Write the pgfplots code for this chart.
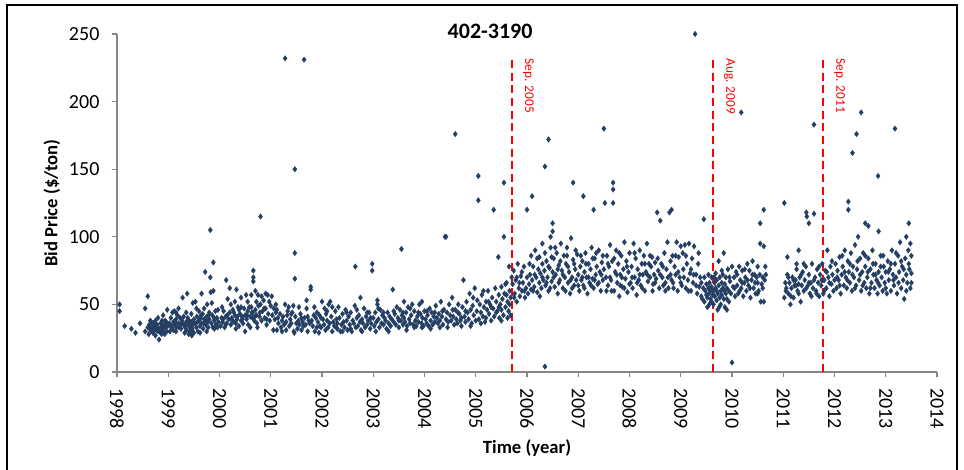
\documentclass[border=0pt]{standalone}
\usepackage{pgfplots}
\pgfplotsset{compat=1.18}
\usepackage{fontspec}
\setmainfont{Carlito}
\definecolor{navy}{RGB}{36,63,99}
\definecolor{axgray}{RGB}{134,134,134}
\begin{document}
\begin{tikzpicture}
\useasboundingbox (0,0) rectangle (723pt,-352.5pt);
\begin{axis}[
  at={(87.75pt,-279pt)}, anchor=south west,
  scale only axis, width=615pt, height=253.5pt,
  xmin=1998, xmax=2014, ymin=0, ymax=250,
  axis lines=left, axis line style={-, axgray, line width=1pt},
  tick style={axgray, line width=1pt}, tick align=outside, major tick length=4pt,
  xtick={1998,...,2014}, ytick={0,50,...,250},
  /pgf/number format/assume math mode=true,
  /pgf/number format/1000 sep={},
  ticklabel style={font=\fontsize{15}{18}\selectfont},
  xticklabel style={rotate=-90, anchor=west, inner sep=1pt, xshift=7pt},
  yticklabel style={inner sep=2pt, xshift=-7pt},
  title={\textbf{402-3190}},
  title style={font=\fontsize{16.5}{19}\selectfont, at={(axis description cs:0.455,1)}, anchor=center, yshift=-4pt},
  xlabel={\textbf{Time (year)}},
  xlabel style={font=\fontsize{14}{16}\selectfont, at={(axis description cs:0.5,0)}, anchor=center, yshift=-57pt},
  ylabel={\textbf{Bid Price (\$/ton)}},
  ylabel style={font=\fontsize{14}{16}\selectfont, at={(axis description cs:-0.0793,0.5)}, anchor=center},
  clip=false,
]
\addplot[only marks, mark=diamond*, mark size=2.1pt, color=navy, mark options={fill=navy, draw=navy, line width=0.2pt}] coordinates {
(1998.05,50)(1998.05,45)(1998.15,34)(1998.28,32)(1998.36,29)(1998.45,36)(1998.55,47)(1998.6,56)(1998.55,30)(1998.6,33)
(1998.62,28)(1998.63,35)(1998.65,38)(1998.66,31)(1998.68,33)(1998.7,36)(1998.7,29)(1998.72,34)(1998.73,31)(1998.75,38)(1998.75,27)(1998.76,33)(1998.78,35)(1998.8,30)(1998.8,40)(1998.82,24)(1998.83,32)(1998.85,36)(1998.86,29)(1998.87,33)(1998.88,38)(1998.9,31)(1998.9,42)(1998.92,35)(1998.93,28)(1998.95,33)(1998.96,37)(1998.97,30)(1998.98,46)(1998.99,34)
(1998.64,32)(1998.69,30)(1998.74,36)(1998.79,33)(1998.84,30)(1998.89,35)(1998.94,38)(1998.67,37)(1998.77,31)(1998.87,28)
(1999.02,36)(1999.03,30)(1999.05,40)(1999.06,33)(1999.08,44)(1999.1,37)(1999.1,31)(1999.12,45)(1999.13,35)(1999.15,39)(1999.16,33)(1999.18,42)(1999.2,36)(1999.2,47)(1999.22,34)(1999.23,40)(1999.25,32)(1999.27,38)(1999.28,55)(1999.3,35)(1999.3,41)(1999.32,29)(1999.33,33)(1999.35,37)(1999.36,31)(1999.37,58)(1999.38,40)(1999.4,35)(1999.4,28)(1999.42,33)(1999.43,30)(1999.45,37)(1999.45,43)(1999.46,27)(1999.47,32)(1999.48,35)(1999.48,51)(1999.5,29)(1999.5,39)
(1999.07,34)(1999.14,37)(1999.21,33)(1999.26,36)(1999.34,34)(1999.41,38)(1999.44,33)(1999.47,30)
(1999.52,36)(1999.53,52)(1999.55,33)(1999.56,41)(1999.58,30)(1999.6,38)(1999.6,45)(1999.62,34)(1999.63,40)(1999.65,58)(1999.65,36)(1999.67,43)(1999.68,32)(1999.7,39)(1999.7,47)(1999.72,74)(1999.73,35)(1999.75,41)(1999.76,50)(1999.77,37)(1999.78,33)(1999.8,44)(1999.8,39)(1999.82,105)(1999.82,70)(1999.83,59)(1999.84,36)(1999.85,51)(1999.86,42)(1999.87,33)(1999.88,81)(1999.88,60)(1999.9,38)(1999.92,45)(1999.93,35)(1999.95,40)(1999.96,33)(1999.97,46)(1999.98,37)
(1999.57,37)(1999.64,42)(1999.69,36)(1999.74,38)(1999.79,42)(1999.89,40)
(2000.02,34)(2000.04,40)(2000.06,37)(2000.08,45)(2000.1,33)(2000.12,41)(2000.13,68)(2000.14,36)(2000.16,54)(2000.18,39)(2000.2,44)(2000.22,35)(2000.2,62)(2000.24,40)(2000.26,46)(2000.28,37)(2000.3,52)(2000.3,42)(2000.32,36)(2000.33,61)(2000.34,39)(2000.36,48)(2000.38,34)(2000.4,43)(2000.42,55)(2000.42,38)(2000.44,41)(2000.46,36)(2000.48,47)(2000.5,30)(2000.5,42)
(2000.07,39)(2000.15,42)(2000.25,38)(2000.35,41)(2000.45,39)(2000.28,44)(2000.38,46)
(2000.52,57)(2000.53,39)(2000.55,45)(2000.56,35)(2000.58,48)(2000.6,41)(2000.6,33)(2000.62,57)(2000.64,40)(2000.65,44)(2000.66,75)(2000.66,70)(2000.66,67)(2000.68,38)(2000.7,60)(2000.7,46)(2000.72,42)(2000.73,36)(2000.74,33)(2000.75,57)(2000.76,49)(2000.78,41)(2000.8,115)(2000.8,50)(2000.82,38)(2000.84,45)(2000.86,53)(2000.88,40)(2000.9,58)(2000.9,47)(2000.92,39)(2000.94,57)(2000.95,43)(2000.97,52)(2000.98,38)
(2000.54,42)(2000.63,44)(2000.69,41)(2000.79,44)(2000.87,47)
(2001.02,56)(2001.03,42)(2001.05,31)(2001.06,47)(2001.08,39)(2001.1,44)(2001.12,31)(2001.14,40)(2001.15,36)(2001.18,43)(2001.2,33)(2001.22,38)(2001.24,41)(2001.26,35)(2001.28,232)(2001.28,50)(2001.3,37)(2001.3,31)(2001.32,42)(2001.35,48)(2001.36,34)(2001.38,39)(2001.4,36)(2001.42,44)(2001.44,49)(2001.45,30)(2001.46,29)(2001.47,150)(2001.47,88)(2001.47,69)(2001.48,41)(2001.5,36)
(2001.52,32)(2001.54,38)(2001.56,35)(2001.58,43)(2001.6,31)(2001.62,37)(2001.64,34)(2001.65,231)(2001.66,40)(2001.68,35)(2001.7,53)(2001.7,47)(2001.72,41)(2001.74,38)(2001.76,36)(2001.78,63)(2001.78,61)(2001.8,38)(2001.82,34)(2001.84,42)(2001.86,30)(2001.88,40)(2001.9,44)(2001.9,33)(2001.92,37)(2001.94,29)(2001.95,42)(2001.96,34)(2001.98,40)(2002.0,52)
(2002.02,39)(2002.04,35)(2002.05,47)(2002.07,31)(2002.08,43)(2002.1,38)(2002.12,33)(2002.13,50)(2002.15,36)(2002.16,52)(2002.18,41)(2002.2,30)(2002.22,37)(2002.24,34)(2002.26,45)(2002.28,39)(2002.3,32)(2002.3,36)(2002.32,48)(2002.34,40)(2002.36,30)(2002.38,35)(2002.4,43)(2002.42,37)(2002.44,33)(2002.46,46)(2002.48,38)(2002.5,31)
(2002.52,41)(2002.54,35)(2002.56,44)(2002.58,30)(2002.6,38)(2002.62,36)(2002.64,49)(2002.65,78)(2002.66,33)(2002.68,40)(2002.7,34)(2002.72,42)(2002.74,37)(2002.75,55)(2002.76,31)(2002.78,39)(2002.8,36)(2002.82,47)(2002.84,33)(2002.86,41)(2002.88,35)(2002.9,38)(2002.92,44)(2002.94,32)(2002.96,36)(2002.98,80)(2002.98,75)(2003.0,40)
(2003.02,34)(2003.04,44)(2003.06,37)(2003.08,53)(2003.08,50)(2003.1,39)(2003.12,33)(2003.14,46)(2003.16,36)(2003.18,42)(2003.2,35)(2003.22,40)(2003.24,38)(2003.26,32)(2003.28,44)(2003.3,36)(2003.32,41)(2003.34,34)(2003.36,39)(2003.38,61)(2003.4,37)(2003.42,43)(2003.44,35)(2003.46,48)(2003.48,40)(2003.5,33)
(2003.52,46)(2003.54,38)(2003.55,91)(2003.56,42)(2003.58,35)(2003.6,52)(2003.6,40)(2003.62,37)(2003.64,44)(2003.66,34)(2003.68,48)(2003.7,39)(2003.72,36)(2003.74,42)(2003.76,50)(2003.78,35)(2003.8,45)(2003.82,38)(2003.84,34)(2003.86,41)(2003.88,37)(2003.9,50)(2003.92,43)(2003.94,36)(2003.95,52)(2003.96,40)(2003.98,34)(2004.0,45)
(2004.02,39)(2004.04,36)(2004.06,42)(2004.08,34)(2004.1,47)(2004.12,38)(2004.14,44)(2004.16,35)(2004.18,41)(2004.2,37)(2004.22,49)(2004.24,40)(2004.26,36)(2004.28,43)(2004.3,38)(2004.32,52)(2004.34,41)(2004.36,35)(2004.38,46)(2004.4,100)(2004.42,100)(2004.42,39)(2004.44,44)(2004.46,37)(2004.48,50)(2004.5,42)
(2004.52,38)(2004.54,55)(2004.56,41)(2004.58,35)(2004.6,176)(2004.6,46)(2004.62,39)(2004.64,36)(2004.66,50)(2004.68,43)(2004.7,38)(2004.72,34)(2004.74,48)(2004.76,68)(2004.78,41)(2004.8,37)(2004.82,52)(2004.84,44)(2004.86,39)(2004.88,58)(2004.9,46)(2004.92,36)(2004.94,49)(2004.96,42)(2004.98,62)(2005.0,38)
(2005.02,45)(2005.03,53)(2005.05,145)(2005.05,127)(2005.06,39)(2005.08,50)(2005.1,44)(2005.12,57)(2005.14,41)(2005.16,48)(2005.18,37)(2005.2,52)(2005.22,46)(2005.24,60)(2005.26,43)(2005.28,50)(2005.3,38)(2005.32,55)(2005.35,120)(2005.34,47)(2005.36,41)(2005.38,62)(2005.4,52)(2005.42,45)(2005.44,85)(2005.45,57)(2005.46,40)(2005.48,50)(2005.5,63)(2005.5,46)(2005.52,54)(2005.54,42)(2005.55,140)(2005.55,100)(2005.56,58)(2005.58,48)(2005.6,66)(2005.62,52)(2005.64,45)(2005.65,78)(2005.66,60)(2005.68,55)(2005.68,42)(2005.7,70)
(2005.72,65)(2005.74,75)(2005.76,58)(2005.78,68)(2005.8,52)(2005.82,80)(2005.84,62)(2005.86,56)(2005.88,71)(2005.9,60)(2005.92,66)(2005.94,78)(2005.96,55)(2005.98,62)(2006.0,120)(2006.0,70)
(2006.02,58)(2006.04,65)(2006.06,72)(2006.08,61)(2006.1,130)(2006.1,68)(2006.12,78)(2006.14,63)(2006.16,90)(2006.18,70)(2006.2,59)(2006.22,76)(2006.24,66)(2006.24,85)(2006.26,73)(2006.28,62)(2006.3,80)(2006.3,95)(2006.32,68)(2006.34,75)(2006.35,152)(2006.35,4)(2006.36,64)(2006.38,82)(2006.4,70)(2006.42,172)(2006.42,60)(2006.44,77)(2006.46,92)(2006.46,100)(2006.48,67)(2006.5,74)
(2006.5,110)(2006.5,104)(2006.52,84)(2006.54,63)(2006.56,72)(2006.58,88)(2006.6,58)(2006.62,79)(2006.64,68)(2006.66,95)(2006.68,75)(2006.7,62)(2006.72,86)(2006.74,70)(2006.76,80)(2006.78,92)(2006.8,66)(2006.82,74)(2006.84,58)(2006.86,99)(2006.88,70)(2006.9,140)(2006.9,83)(2006.92,64)(2006.94,76)(2006.96,68)(2006.98,87)(2007.0,72)
(2007.02,60)(2007.04,78)(2007.06,68)(2007.08,82)(2007.1,130)(2007.1,64)(2007.12,74)(2007.14,88)(2007.16,70)(2007.18,58)(2007.2,80)(2007.22,66)(2007.24,76)(2007.26,92)(2007.28,69)(2007.3,120)(2007.3,62)(2007.32,84)(2007.34,72)(2007.36,78)(2007.38,65)(2007.4,90)(2007.42,74)(2007.44,60)(2007.46,81)(2007.48,68)(2007.5,180)(2007.5,76)
(2007.52,125)(2007.54,70)(2007.56,86)(2007.58,64)(2007.6,78)(2007.62,94)(2007.64,68)(2007.66,82)(2007.68,140)(2007.68,135)(2007.68,125)(2007.7,60)(2007.72,74)(2007.74,90)(2007.76,66)(2007.78,80)(2007.8,56)(2007.82,72)(2007.84,86)(2007.86,63)(2007.88,76)(2007.9,96)(2007.92,69)(2007.94,82)(2007.96,59)(2007.98,74)(2008.0,88)
(2008.02,66)(2008.04,78)(2008.06,62)(2008.08,95)(2008.1,70)(2008.12,84)(2008.14,57)(2008.16,76)(2008.18,68)(2008.2,90)(2008.22,64)(2008.24,80)(2008.26,72)(2008.28,86)(2008.3,60)(2008.32,74)(2008.34,95)(2008.36,67)(2008.38,80)(2008.4,70)(2008.42,78)(2008.44,85)(2008.46,65)(2008.48,72)(2008.5,81)
(2008.52,69)(2008.54,118)(2008.56,75)(2008.58,62)(2008.6,112)(2008.62,80)(2008.64,70)(2008.66,64)(2008.68,88)(2008.7,66)(2008.72,76)(2008.74,96)(2008.76,62)(2008.78,118)(2008.8,72)(2008.82,120)(2008.82,68)(2008.84,86)(2008.86,62)(2008.88,78)(2008.9,72)(2008.92,96)(2008.94,60)(2008.96,85)(2008.98,70)(2009.0,93)
(2009.02,64)(2009.04,88)(2009.06,70)(2009.08,94)(2009.1,62)(2009.12,80)(2009.14,68)(2009.16,95)(2009.18,73)(2009.2,60)(2009.22,84)(2009.24,66)(2009.26,93)(2009.28,250)(2009.3,72)(2009.32,58)(2009.34,80)(2009.36,63)(2009.38,70)(2009.4,56)(2009.4,66)(2009.42,54)(2009.44,62)(2009.45,113)(2009.46,52)(2009.46,70)(2009.48,60)(2009.5,57)(2009.5,65)(2009.52,48)(2009.52,55)(2009.54,62)(2009.54,72)(2009.55,58)(2009.56,50)(2009.56,66)(2009.58,60)(2009.58,54)(2009.6,63)(2009.6,52)(2009.6,70)(2009.62,57)
(2009.64,60)(2009.64,50)(2009.66,66)(2009.66,56)(2009.68,73)(2009.68,62)(2009.7,53)(2009.7,68)(2009.72,58)(2009.72,46)(2009.74,64)(2009.74,82)(2009.76,55)(2009.76,70)(2009.78,60)(2009.78,50)(2009.8,66)(2009.8,57)(2009.82,72)(2009.82,62)(2009.84,54)(2009.84,88)(2009.86,65)(2009.86,48)(2009.88,58)(2009.88,70)(2009.9,62)(2009.9,54)(2009.92,76)(2009.94,60)(2009.94,52)(2009.96,67)(2009.98,58)(2010.0,7)(2010.0,78)(2010.02,63)
(2010.04,70)(2010.06,56)(2010.08,74)(2010.1,64)(2010.12,58)(2010.14,78)(2010.16,68)(2010.18,192)(2010.18,62)(2010.2,75)(2010.22,56)(2010.24,66)(2010.26,70)(2010.28,60)(2010.3,80)(2010.32,64)(2010.34,75)(2010.36,55)(2010.38,68)(2010.4,82)(2010.42,62)(2010.44,72)(2010.46,58)(2010.48,70)(2010.5,66)(2010.5,78)(2010.52,60)(2010.54,72)(2010.55,110)(2010.55,95)(2010.56,52)(2010.58,65)(2010.6,70)(2010.62,120)(2010.62,93)(2010.62,52)(2010.64,68)(2010.66,72)
(2011.02,125)(2011.02,55)(2011.04,66)(2011.06,62)(2011.08,72)(2011.08,85)(2011.1,58)(2011.12,66)(2011.14,50)(2011.16,62)(2011.18,70)(2011.2,55)(2011.22,64)(2011.24,68)(2011.26,76)(2011.26,80)(2011.28,60)(2011.3,65)(2011.3,90)(2011.32,70)(2011.34,52)(2011.36,64)(2011.38,74)(2011.4,60)(2011.42,68)(2011.44,78)(2011.45,118)(2011.46,115)(2011.48,64)(2011.5,110)(2011.5,72)(2011.52,58)(2011.54,66)(2011.56,80)(2011.58,62)(2011.6,183)(2011.6,117)(2011.62,70)(2011.64,60)(2011.66,76)(2011.68,66)(2011.7,56)
(2011.72,72)(2011.74,64)(2011.76,80)(2011.78,58)(2011.8,68)(2011.82,75)(2011.84,62)(2011.86,90)(2011.88,70)(2011.9,56)(2011.92,78)(2011.94,65)(2011.96,72)(2011.98,60)(2012.0,68)
(2012.02,80)(2012.04,62)(2012.06,75)(2012.08,68)(2012.1,85)(2012.12,58)(2012.14,72)(2012.16,78)(2012.18,64)(2012.2,90)(2012.22,70)(2012.24,62)(2012.26,82)(2012.27,126)(2012.27,120)(2012.28,74)(2012.3,66)(2012.32,88)(2012.34,60)(2012.35,162)(2012.36,78)(2012.38,70)(2012.4,94)(2012.42,64)(2012.43,176)(2012.44,76)(2012.46,100)(2012.48,68)(2012.5,84)(2012.52,192)(2012.52,60)
(2012.54,74)(2012.56,88)(2012.58,66)(2012.6,110)(2012.6,78)(2012.62,62)(2012.64,70)(2012.66,108)(2012.66,84)(2012.68,58)(2012.7,76)(2012.72,66)(2012.74,90)(2012.76,72)(2012.78,62)(2012.8,80)(2012.82,68)(2012.84,58)(2012.85,145)(2012.86,104)(2012.86,74)(2012.88,64)(2012.9,86)(2012.92,70)(2012.94,60)(2012.96,78)(2012.98,66)(2013.0,74)
(2013.02,58)(2013.04,82)(2013.06,68)(2013.08,76)(2013.1,60)(2013.12,90)(2013.14,72)(2013.16,64)(2013.18,180)(2013.18,80)(2013.2,70)(2013.22,58)(2013.24,86)(2013.26,74)(2013.28,96)(2013.3,62)(2013.32,78)(2013.34,68)(2013.36,54)(2013.38,84)(2013.4,100)(2013.4,72)(2013.42,66)(2013.44,90)(2013.45,110)(2013.46,76)(2013.48,95)(2013.48,62)(2013.5,73)
(1999.15,30)(1999.15,44)(1999.35,44)(1999.55,47)(1999.62,29)(1999.75,30)(1999.9,32)(2000.05,48)(2000.12,35)(2000.22,50)(2000.32,32)(2000.42,48)(2000.55,52)(2000.62,48)(2000.72,52)(2000.82,56)(2000.92,35)(2001.0,49)(2001.1,50)
(2001.12,46)(2001.22,30)(2001.33,45)(2001.4,43)(2001.55,48)(2001.6,40)(2001.72,30)(2001.85,48)(2001.98,33)(2002.1,45)(2002.2,48)(2002.28,33)(2002.4,30)(2002.48,44)(2002.56,32)(2002.68,46)(2002.78,30)(2002.88,44)(2002.95,40)(2003.05,30)(2003.1,47)(2003.2,44)(2003.3,30)(2003.4,45)(2003.5,38)(2003.58,44)(2003.65,31)(2003.72,47)(2003.8,33)(2003.88,44)(2003.95,33)(2004.05,45)(2004.12,32)(2004.2,44)(2004.3,33)(2004.35,45)(2004.45,33)(2004.55,46)(2004.65,44)(2004.72,40)(2004.8,45)(2004.9,34)(2004.95,55)
(2005.1,36)(2005.15,60)(2005.2,40)(2005.25,52)(2005.3,48)(2005.4,44)(2005.45,48)(2005.5,38)(2005.58,65)(2005.62,40)(2005.66,50)(2005.6,57)
(2005.75,55)(2005.8,70)(2005.85,66)(2005.9,74)(2005.95,60)(2006.05,80)(2006.08,86)(2006.12,60)(2006.15,72)(2006.2,84)(2006.25,56)(2006.3,70)(2006.35,88)(2006.38,66)(2006.42,78)(2006.45,62)(2006.48,85)(2006.52,70)(2006.55,92)(2006.6,76)(2006.62,66)(2006.65,82)(2006.7,72)(2006.75,60)(2006.78,86)(2006.8,78)(2006.85,68)(2006.88,62)(2006.92,80)(2006.95,90)(2007.0,64)(2007.05,86)(2007.08,70)(2007.12,62)(2007.15,80)(2007.2,70)(2007.25,64)(2007.28,84)(2007.32,68)(2007.35,88)(2007.4,66)(2007.45,72)(2007.48,86)(2007.55,60)(2007.58,80)(2007.62,70)(2007.65,60)(2007.7,84)(2007.75,72)(2007.8,88)(2007.82,64)(2007.85,70)(2007.9,62)(2007.95,78)(2008.0,65)(2008.05,70)(2008.1,88)(2008.15,66)(2008.2,72)(2008.25,62)(2008.3,80)(2008.35,72)(2008.4,86)(2008.45,60)(2008.5,66)(2008.55,84)(2008.6,72)(2008.65,78)(2008.7,60)(2008.75,70)(2008.8,82)(2008.85,66)(2008.9,86)(2008.95,74)(2009.0,66)(2009.05,76)(2009.1,86)(2009.15,60)(2009.2,76)(2009.25,72)(2009.3,64)(2009.35,88)
(2009.65,70)(2009.7,60)(2009.75,48)(2009.8,75)(2009.85,60)(2009.9,46)(2009.95,70)(2010.05,62)(2010.1,72)(2010.15,60)(2010.2,66)(2010.25,76)(2010.3,68)(2010.35,62)(2010.4,72)(2010.45,66)(2010.5,58)(2010.6,62)(2010.65,78)
(2011.05,60)(2011.1,70)(2011.15,56)(2011.2,68)(2011.25,64)(2011.3,58)(2011.35,72)(2011.4,80)(2011.45,62)(2011.5,66)(2011.55,56)(2011.6,68)(2011.65,58)(2011.7,78)(2011.75,68)(2011.8,60)(2011.85,74)(2011.9,66)(2011.95,82)(2012.05,70)(2012.1,64)(2012.15,86)(2012.2,74)(2012.25,68)(2012.3,80)(2012.35,72)(2012.4,62)(2012.45,82)(2012.5,72)(2012.55,64)(2012.6,86)(2012.65,74)(2012.7,62)(2012.75,80)(2012.8,72)(2012.85,66)(2012.9,78)(2012.95,86)(2013.0,62)(2013.05,74)(2013.1,80)(2013.15,68)(2013.2,88)(2013.25,66)(2013.3,82)(2013.35,76)(2013.4,60)(2013.45,80)(2013.5,86)(2013.5,66)
};
\addplot[red, dashed, line width=1.5pt, dash pattern=on 6pt off 3.5pt] coordinates {(2005.71,0)(2005.71,232)};
\addplot[red, dashed, line width=1.5pt, dash pattern=on 6pt off 3.5pt] coordinates {(2009.63,0)(2009.63,232)};
\addplot[red, dashed, line width=1.5pt, dash pattern=on 6pt off 3.5pt] coordinates {(2011.78,0)(2011.78,232)};
\node[red, rotate=-90, anchor=south west, inner sep=0pt, yshift=8pt, font=\fontsize{10}{12}\selectfont] at (axis cs:2005.71,232) {Sep. 2005};
\node[red, rotate=-90, anchor=south west, inner sep=0pt, yshift=8pt, font=\fontsize{10}{12}\selectfont] at (axis cs:2009.63,232) {Aug. 2009};
\node[red, rotate=-90, anchor=south west, inner sep=0pt, yshift=8pt, font=\fontsize{10}{12}\selectfont] at (axis cs:2011.78,232) {Sep. 2011};
\end{axis}
\draw[black, line width=0.8pt] (5.25pt,-352.5pt) -- (5.25pt,-3.75pt) -- (717.75pt,-3.75pt) -- (717.75pt,-352.5pt);
\end{tikzpicture}
\end{document}
